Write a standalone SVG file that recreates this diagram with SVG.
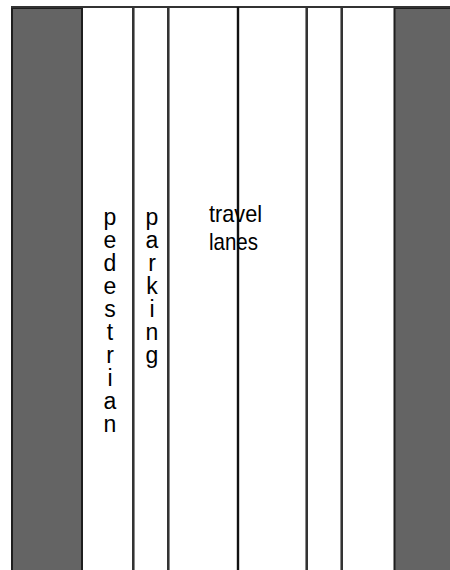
<svg xmlns="http://www.w3.org/2000/svg" width="450" height="570" viewBox="0 0 450 570">
<style>
.dark{fill:#646464;stroke:#1e1e1e;stroke-width:2}
.ln{stroke:#333;stroke-width:2;fill:none}
.lg{stroke:#8a8a8a;stroke-width:1;fill:none}
.lb{stroke:#111;stroke-width:2.4;fill:none}
.t{font-family:"Liberation Sans",Arial,sans-serif;font-size:23px;fill:#000}
.h{font-family:"Liberation Sans",Arial,sans-serif;font-size:24px;fill:#000}
</style>
<rect width="450" height="570" fill="#fff"/>
<g id="edges">
<rect class="dark" x="12" y="8" width="70" height="570"/>
<rect class="dark" x="394.5" y="8" width="60" height="570"/>
<line class="ln" x1="11" y1="7" x2="450" y2="7"/>
<line class="ln" x1="133" y1="7" x2="133" y2="570"/>
<line class="lg" x1="134.5" y1="8" x2="134.5" y2="570"/>
<line class="ln" x1="168" y1="7" x2="168" y2="570"/>
<line class="lg" x1="169.5" y1="8" x2="169.5" y2="570"/>
<line class="lb" x1="238" y1="7" x2="238" y2="570"/>
<line class="ln" x1="307" y1="7" x2="307" y2="570"/>
<line class="lg" x1="305.5" y1="8" x2="305.5" y2="570"/>
<line class="ln" x1="342" y1="7" x2="342" y2="570"/>
<line class="lg" x1="340.5" y1="8" x2="340.5" y2="570"/>
</g>
<g id="pedestrian">
<text class="t" text-anchor="middle">
<tspan x="110" y="225">p</tspan><tspan x="110" y="248">e</tspan><tspan x="110" y="271">d</tspan><tspan x="110" y="294">e</tspan><tspan x="110" y="317">s</tspan><tspan x="110" y="340">t</tspan><tspan x="110" y="363">r</tspan><tspan x="110" y="386">i</tspan><tspan x="110" y="409">a</tspan><tspan x="110" y="432">n</tspan>
</text>
</g>
<g id="parking">
<text class="t" text-anchor="middle">
<tspan x="152" y="225">p</tspan><tspan x="152" y="248">a</tspan><tspan x="152" y="271">r</tspan><tspan x="152" y="294">k</tspan><tspan x="152" y="317">i</tspan><tspan x="152" y="340">n</tspan><tspan x="152" y="363">g</tspan>
</text>
</g>
<g id="travel-lanes">
<text class="h" x="209" y="222" textLength="53" lengthAdjust="spacingAndGlyphs">travel</text>
<text class="h" x="209" y="250" textLength="49" lengthAdjust="spacingAndGlyphs">lanes</text>
</g>
</svg>
